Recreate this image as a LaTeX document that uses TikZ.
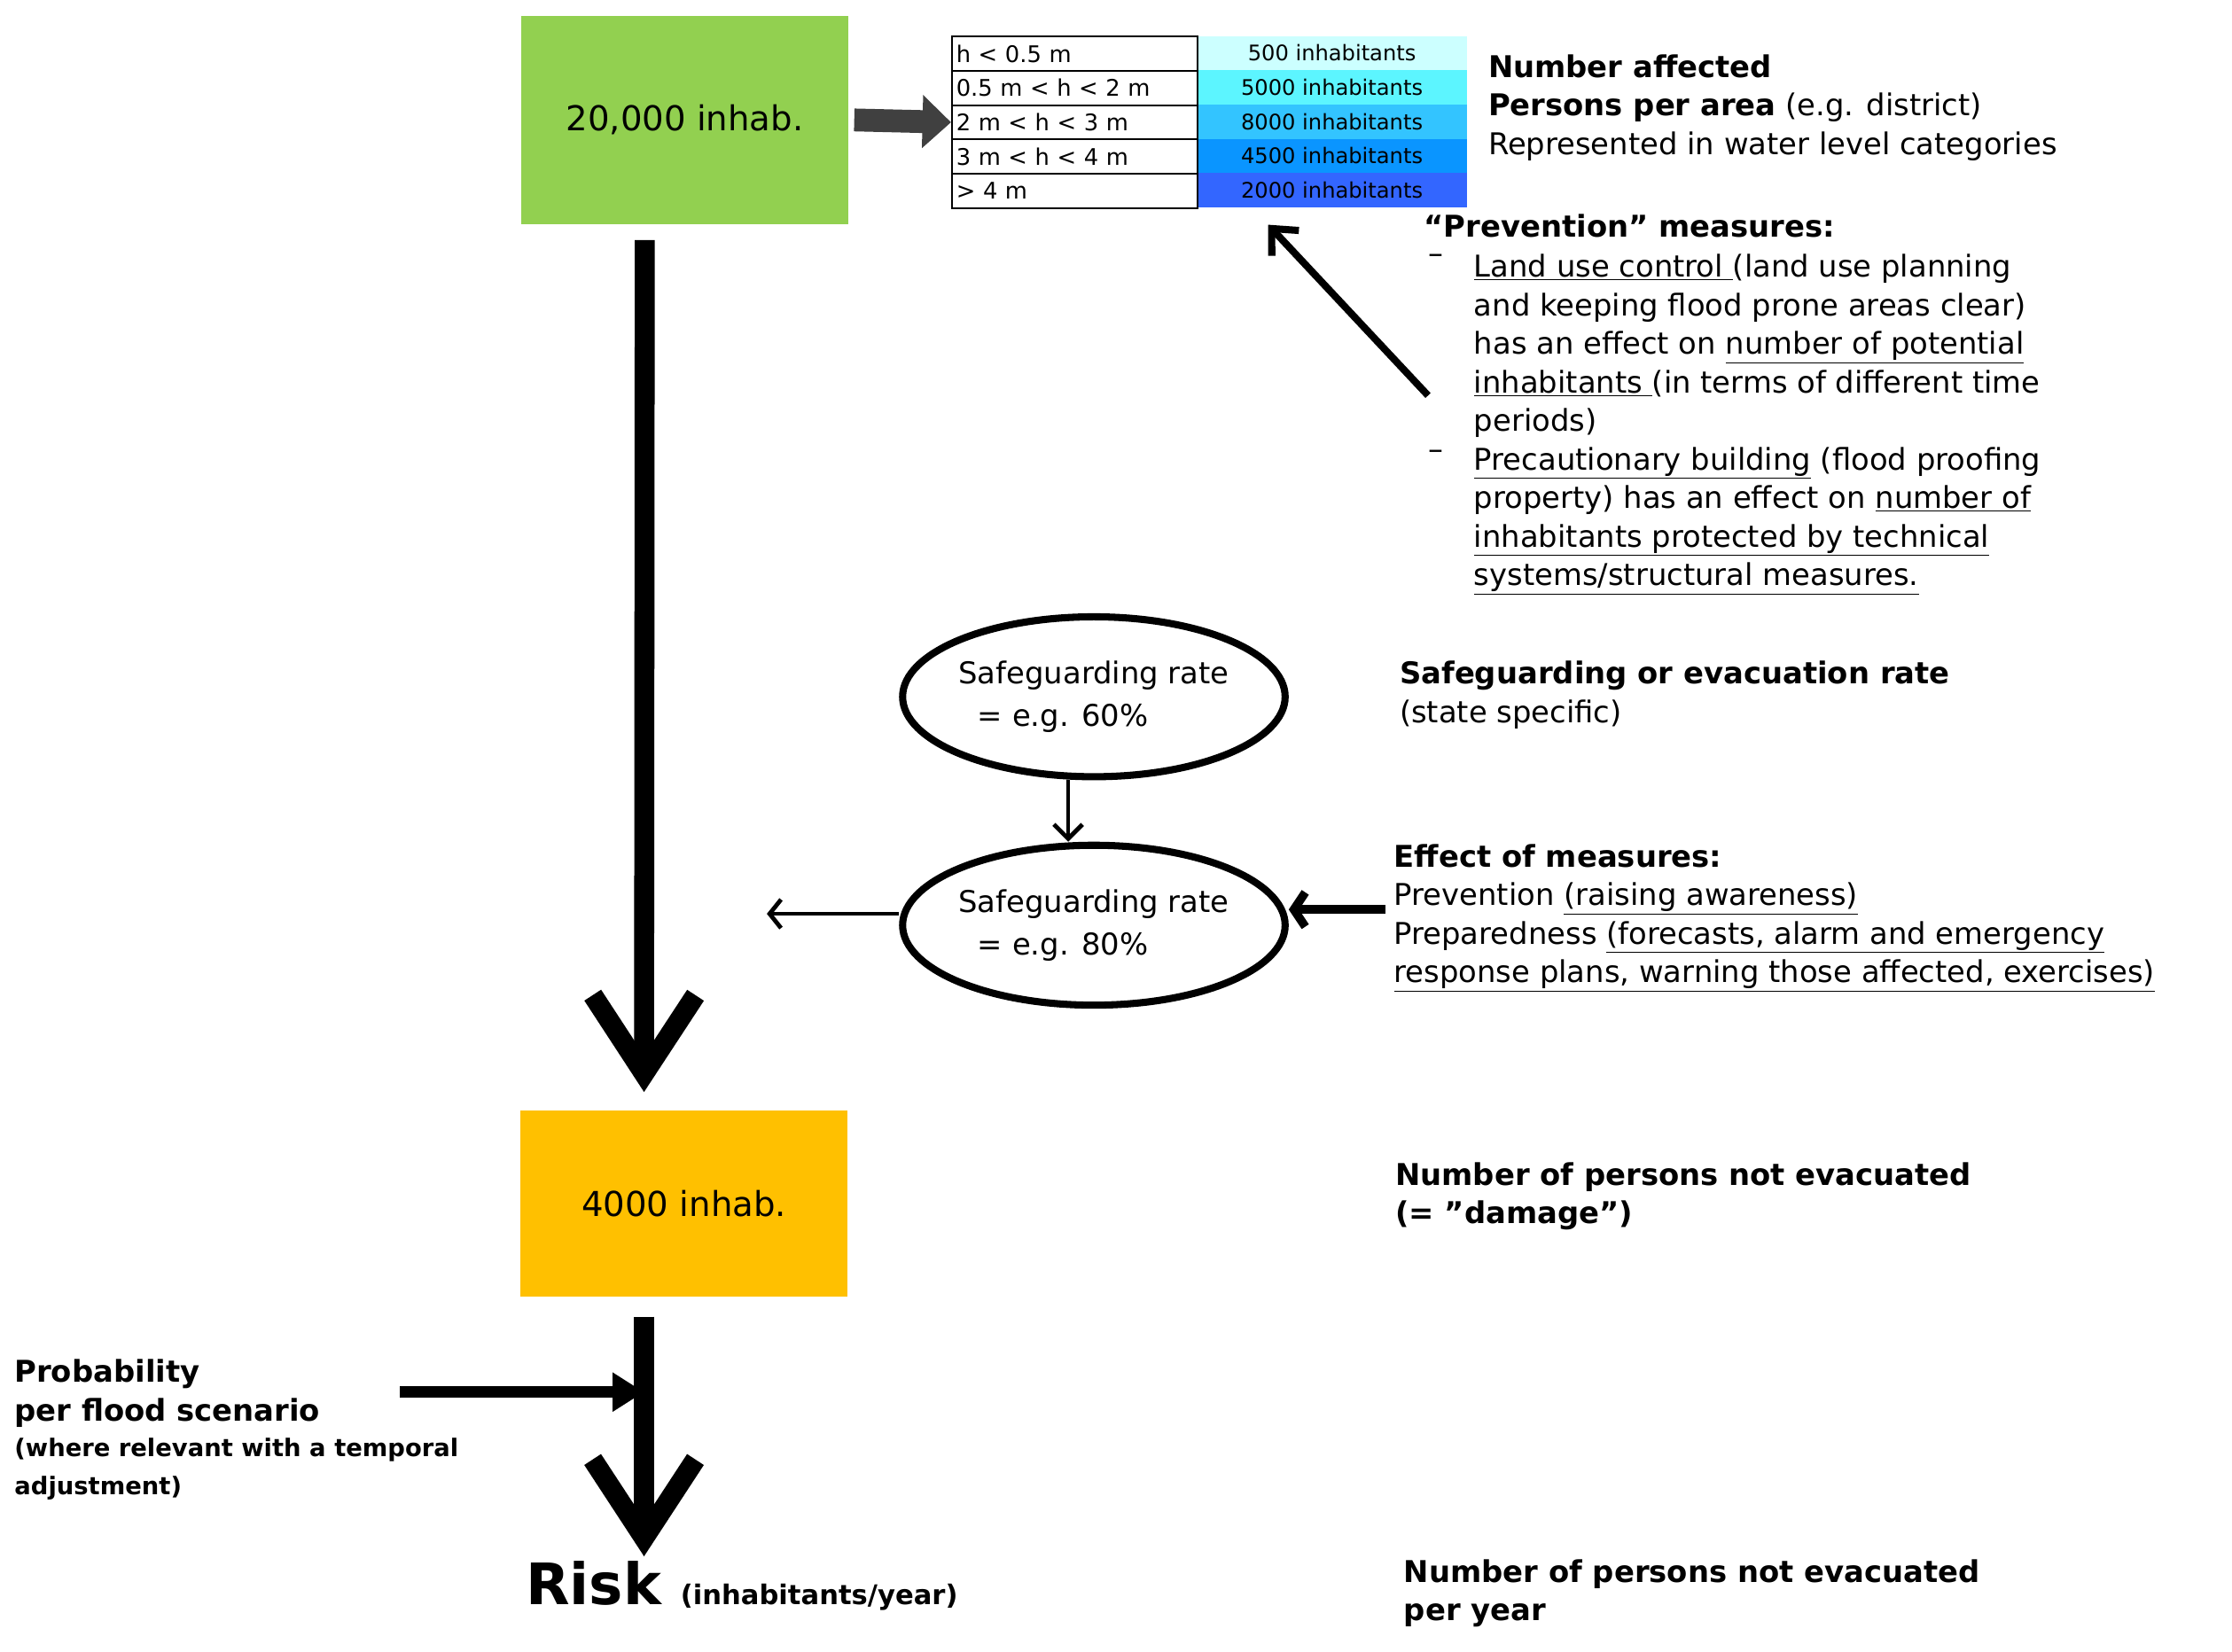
\documentclass[tikz,border=0pt]{standalone}
\usepackage{fontspec}
\setmainfont{DejaVu Sans}
\usetikzlibrary{shapes.geometric,arrows.meta,positioning,calc}
\definecolor{boxgreen}{HTML}{92D050}
\definecolor{boxorange}{HTML}{FFC000}
\definecolor{arrgray}{HTML}{404040}
\definecolor{lvla}{HTML}{CCFFFF}
\definecolor{lvlb}{HTML}{5CF5FF}
\definecolor{lvlc}{HTML}{33C4FF}
\definecolor{lvld}{HTML}{0A95FF}
\definecolor{lvle}{HTML}{3366FF}
\tikzset{
  txt/.style={font=\fontsize{21}{27}\selectfont, align=left, inner sep=0pt, anchor=north west},
  box/.style={minimum width=229pt, minimum height=#1, inner sep=0pt, font=\fontsize{24}{28}\selectfont},
  rate/.style={ellipse, draw, line width=5pt, minimum width=256pt, minimum height=112pt, inner sep=0pt, align=left, font=\fontsize{21}{30}\selectfont},
  big/.style={line width=14pt, -{Straight Barb[length=55pt,width=72pt]}},
}
\begin{document}
\begin{tikzpicture}[x=1pt,y=-1pt]
    \useasboundingbox (0,0) rectangle (1563,1157);
    % boxes
    \node[box=146pt, fill=boxgreen] (start) at (479.5,84) {20,000 inhab.};
    \node[box=130pt, fill=boxorange] (damage) at (479,843) {4000 inhab.};
    % water level table
    \foreach \i/\lab/\col/\num in {0/{h < 0.5 m}/lvla/500, 1/{0.5 m < h < 2 m}/lvlb/5000, 2/{2 m < h < 3 m}/lvlc/8000, 3/{3 m < h < 4 m}/lvld/4500, 4/{> 4 m}/lvle/2000} {
        \node[fill=\col, minimum width=189pt, minimum height=24pt, inner sep=0pt, anchor=north west, font=\fontsize{15}{18}\selectfont] (val\i) at (838,25+24*\i) {\num\ inhabitants};
        \node[draw, line width=1.3pt, minimum width=172pt, minimum height=24pt, inner sep=2pt, anchor=north west, text width=166pt, font=\fontsize{16}{18}\selectfont] (lvl\i) at (666,25+24*\i) {\lab};
    }
    \draw[arrgray, line width=16pt, -{Triangle[length=20pt,width=36pt]}] ($(start.east)+(4,0)$) -- (lvl2.west);
    \node[txt] (affected) at (1042,38) {\textbf{Number affected}\\\textbf{Persons per area} (e.g. district)\\Represented in water level categories};
    % prevention
    \node[txt] (prevhead) at (997,150) {\textbf{“Prevention” measures:}};
    \node[txt] at (1000,178) {–};
    \node[txt] at (1000,315) {–};
    \node[txt] (prev) at (1032,178) {\underline{Land use control }(land use planning\\and keeping flood prone areas clear)\\has an effect on \underline{number of potential}\\\underline{inhabitants }(in terms of different time\\periods)\\\underline{Precautionary building} (flood proofing\\property) has an effect on \underline{number of}\\\underline{inhabitants protected by technical}\\\underline{systems/structural measures.}};
    \coordinate (prevtail) at (1000,277);
    \coordinate (prevtip) at ($(val4.south west)+(50,12)$);
    \draw[line width=5pt, -{Straight Barb[length=14pt,width=26pt]}] (prevtail) -- (prevtip);
    % safeguarding rates
    \node[rate] (rate1) at (766,488) {Safeguarding rate\\\ \ = e.g. 60\%};
    \node[rate] (rate2) at (766,648) {Safeguarding rate\\\ \ = e.g. 80\%};
    \coordinate (r1out) at ($(rate1.south)+(-18,0)$);
    \coordinate (r2in) at ($(rate2.north)+(-18,0)$);
    \draw[line width=3pt, -{Straight Barb[length=10pt,width=20pt]}] (r1out) -- (r2in);
    \coordinate (out) at (537,640);
    \coordinate (effin) at (970,637);
    \coordinate (r2west) at ($(rate2.west)+(0,-8)$);
    \coordinate (r2east) at ($(rate2.east)+(0,-11)$);
    \draw[line width=3pt, -{Straight Barb[length=8pt,width=20pt]}] (r2west) -- (out);
    \draw[line width=6pt, -{Straight Barb[length=8pt,width=24pt]}] (effin) -- (r2east);
    \node[txt] (evac) at (980,463) {\textbf{Safeguarding or evacuation rate}\\(state specific)};
    \node[txt] (effect) at (976,591) {\textbf{Effect of measures:}\\Prevention \underline{(raising awareness)}\\Preparedness \underline{(forecasts, alarm and emergency}\\\underline{response plans, warning those affected, exercises)}};
    \node[txt] (notevac) at (977,814) {\textbf{Number of persons not evacuated}\\\textbf{(= \symbol{34}damage\symbol{34})}};
    % main flow
    \coordinate (flowtop) at ($(start.south)+(-28,11)$);
    \coordinate (flowend) at ($(damage.north)+(-28,-13)$);
    \draw[big] (flowtop) -- (flowend);
    \node[inner sep=0pt, anchor=north west] (risk) at (368,1093) {\fontsize{40}{44}\selectfont\textbf{Risk} \fontsize{19}{22}\selectfont\textbf{(inhabitants/year)}};
    \coordinate (risktop) at ($(damage.south)+(-28,14)$);
    \coordinate (riskend) at (451,1090);
    \draw[big] (risktop) -- (riskend);
    \node[txt] (prob) at (10,952) {\textbf{Probability}\\\textbf{per flood scenario}\\[-2pt]{\fontsize{17}{26}\selectfont\textbf{(where relevant with a temporal}}\\{\fontsize{17}{26}\selectfont\textbf{adjustment)}}};
    \coordinate (probtail) at (280,975);
    \coordinate (join) at (451,975);
    \draw[line width=8pt, -{Triangle[length=22pt,width=26pt]}] (probtail) -- (join);
    \node[txt] (peryear) at (983,1092) {\textbf{Number of persons not evacuated}\\\textbf{per year}};
\end{tikzpicture}
\end{document}
